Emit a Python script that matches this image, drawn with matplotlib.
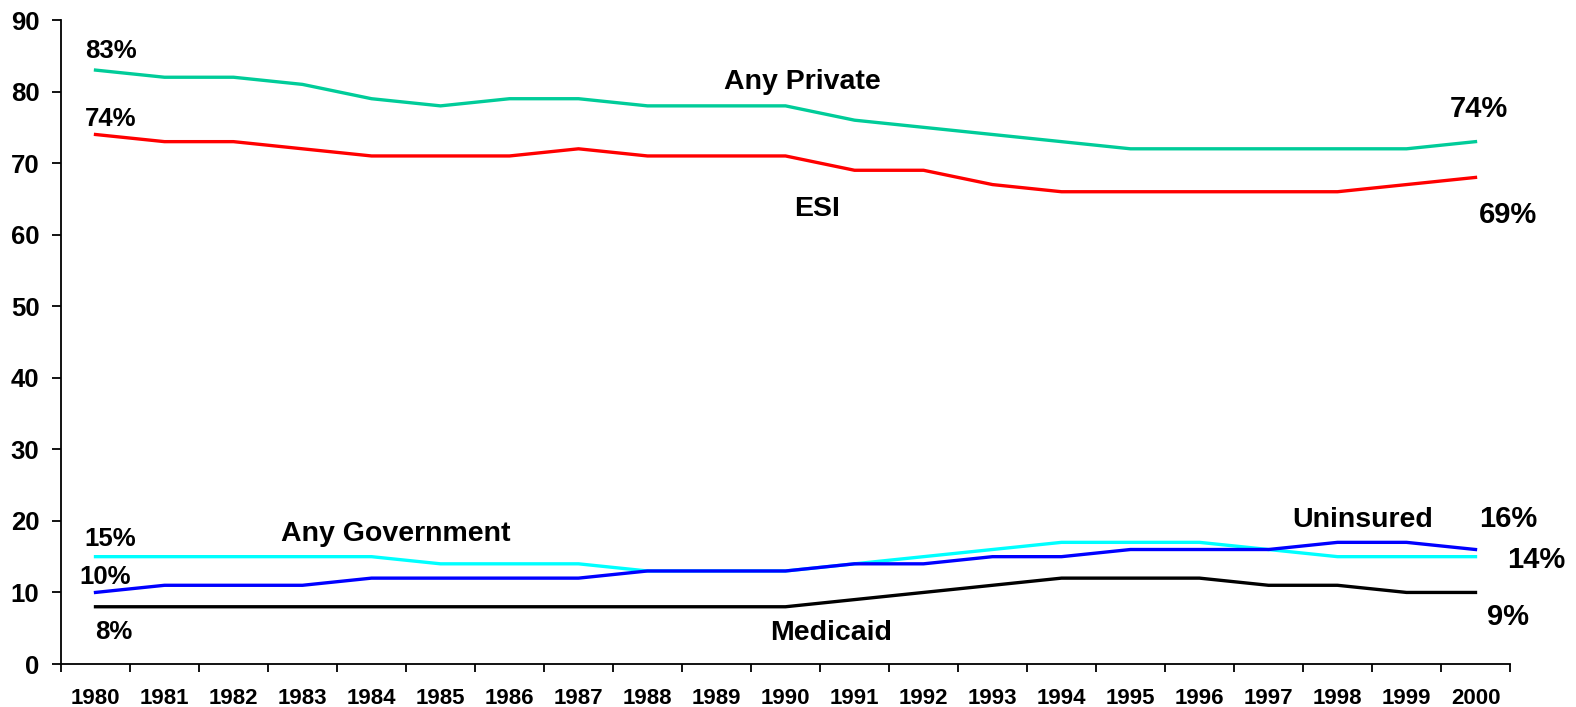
import matplotlib
matplotlib.use("Agg")
import matplotlib.pyplot as plt
from matplotlib.ticker import FixedLocator

plt.rcParams['font.family'] = ['Liberation Sans', 'DejaVu Sans']
plt.rcParams['font.weight'] = 'bold'

years = [str(y) for y in range(1980, 2001)]
any_private = [83, 82, 82, 81, 79, 78, 79, 79, 78, 78, 78, 76, 75, 74, 73, 72, 72, 72, 72, 72, 73]
esi = [74, 73, 73, 72, 71, 71, 71, 72, 71, 71, 71, 69, 69, 67, 66, 66, 66, 66, 66, 67, 68]
any_government = [15, 15, 15, 15, 15, 14, 14, 14, 13, 13, 13, 14, 15, 16, 17, 17, 17, 16, 15, 15, 15]
uninsured = [10, 11, 11, 11, 12, 12, 12, 12, 13, 13, 13, 14, 14, 15, 15, 16, 16, 16, 17, 17, 16]
medicaid = [8, 8, 8, 8, 8, 8, 8, 8, 8, 8, 8, 9, 10, 11, 12, 12, 12, 11, 11, 10, 10]
yticks = [0, 10, 20, 30, 40, 50, 60, 70, 80, 90]

fig = plt.figure(figsize=(15.76, 7.07), dpi=100)
ax = fig.add_axes([61/1576, (707-664)/707, (1510-61)/1576, (664-20)/707])

x = list(range(len(years)))
lw = 2.4
ax.plot(x, any_private, color='#00CC99', lw=lw, zorder=3)
ax.plot(x, esi, color='#FF0000', lw=lw, zorder=3)
ax.plot(x, any_government, color='#00FFFF', lw=lw, zorder=3)
ax.plot(x, uninsured, color='#0000FF', lw=lw, zorder=4)
ax.plot(x, medicaid, color='#000000', lw=lw, zorder=3)

ax.set_xlim(-0.5, len(years) - 0.5)
ax.set_ylim(0, 90)
ax.set_yticks(yticks)
ax.set_yticklabels([str(v) for v in yticks], fontsize=18.5, fontweight='bold')
ax.tick_params(axis='y', direction='out', length=6.5, width=1.3, pad=9)

ax.set_xticks(x)
ax.set_xticklabels(years, fontsize=16, fontweight='bold')
ax.tick_params(axis='x', which='major', length=0, pad=17.5)
ax.xaxis.set_minor_locator(FixedLocator([i - 0.5 for i in range(len(years) + 1)]))
ax.tick_params(axis='x', which='minor', direction='out', length=5.5, width=1.3)

for s in ['top', 'right']:
    ax.spines[s].set_visible(False)
for s in ['left', 'bottom']:
    ax.spines[s].set_linewidth(1.3)

def lab(xv, yv, t, size):
    ax.text(xv, yv, t, fontsize=size, fontweight='bold', ha='center', va='baseline', clip_on=False)

L, S, R = 18.5, 20.5, 21
lab(0.217, 84.66, '83%', L)
lab(0.225, 75.19, '74%', L)
lab(10.249, 80.33, 'Any Private', S)
lab(10.454, 62.61, 'ESI', S)
lab(20.043, 76.41, '74%', R)
lab(20.471, 61.68, '69%', R)
lab(0.216, 16.47, '15%', L)
lab(4.348, 17.21, 'Any Government', S)
lab(0.142, 11.12, '10%', L)
lab(0.267, 3.43, '8%', L)
lab(10.659, 3.33, 'Medicaid', S)
lab(18.362, 19.17, 'Uninsured', S)
lab(20.475, 19.17, '16%', R)
lab(20.887, 13.35, '14%', R)
lab(20.468, 5.43, '9%', R)

fig.savefig('out.png', dpi=100)
